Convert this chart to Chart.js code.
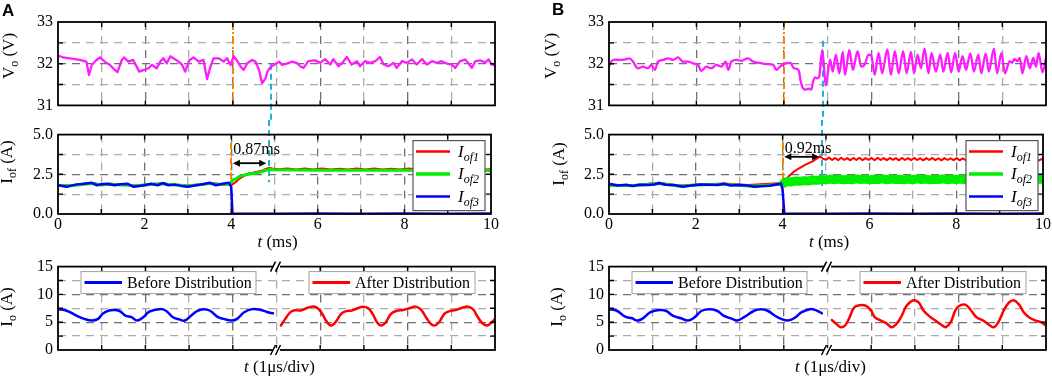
<!DOCTYPE html>
<html><head><meta charset="utf-8">
<script src="https://cdn.jsdelivr.net/npm/chart.js@4.4.1/dist/chart.umd.min.js"></script>
<style>
html,body{margin:0;padding:0;background:#fff;}
body{width:1052px;height:376px;position:relative;overflow:hidden;}
canvas{position:absolute;display:block;}
</style></head><body>
<canvas id="voA" width="500" height="120" style="left:0;top:0"></canvas>
<canvas id="iofA" width="500" height="132" style="left:0;top:120px"></canvas>
<canvas id="ioA" width="500" height="124" style="left:0;top:252px"></canvas>
<canvas id="voB" width="512" height="120" style="left:540px;top:0"></canvas>
<canvas id="iofB" width="512" height="132" style="left:540px;top:120px"></canvas>
<canvas id="ioB" width="512" height="124" style="left:540px;top:252px"></canvas>
<script>
// ---------- tick labels ----------
const T_TICK_LABELS = [0, 2, 4, 6, 8, 10];
const VO_TICK_LABELS = [31, 32, 33];
const IOF_TICK_LABELS = [0, 2.5, 5];
const IO_TICK_LABELS = [0, 5, 10, 15];
const IOF_NAMES = ['of1', 'of2', 'of3'];
const IO_NAMES = ['Before Distribution', 'After Distribution'];

// ---------- event markers ----------
const SWITCH_T_A = 4.0, SETTLE_T_A = 4.87, DELAY_A = '0.87ms';
const SWITCH_T_B = 4.0, SETTLE_T_B = 4.9, DELAY_B = '0.92ms';

// ---------- panel A data ----------
const VO_A = [[0,32.2],[0.11,32.15],[0.27,32.13],[0.5,32.09],[0.65,32.05],[0.71,31.73],[0.77,31.97],[0.88,32.09],[0.96,32.15],[1.07,32.05],[1.19,31.97],[1.3,31.85],[1.36,31.8],[1.46,32.09],[1.51,32.15],[1.61,32.05],[1.72,32.09],[1.8,31.93],[1.86,31.81],[1.97,31.85],[2.07,31.89],[2.15,31.97],[2.26,31.89],[2.34,32.05],[2.41,32.13],[2.49,32.01],[2.57,32.18],[2.64,32.13],[2.76,32.05],[2.84,31.97],[2.91,31.81],[3.01,32.09],[3.1,32.15],[3.22,32.05],[3.33,32.09],[3.41,31.63],[3.49,31.93],[3.56,32.13],[3.68,32.13],[3.79,32.05],[3.87,32.13],[3.95,31.97],[4.02,32.18],[4.1,32.07],[4.18,31.93],[4.25,31.85],[4.33,32.01],[4.44,32.09],[4.52,32.05],[4.6,31.85],[4.67,31.53],[4.75,31.65],[4.79,31.81],[4.87,31.93],[4.94,31.97],[5.06,32.05],[5.13,31.97],[5.25,32.01],[5.36,32.05],[5.48,32.01],[5.54,31.94],[5.62,31.9],[5.73,32.06],[5.88,32.08],[6.0,32.02],[6.11,32.11],[6.23,31.98],[6.3,32.11],[6.42,31.94],[6.49,32.0],[6.61,32.16],[6.72,31.98],[6.84,32.06],[6.91,31.94],[7.03,32.06],[7.14,32.02],[7.26,32.06],[7.37,32.16],[7.45,31.98],[7.56,31.94],[7.68,32.02],[7.75,31.9],[7.87,32.06],[7.98,32.02],[8.1,32.1],[8.21,31.98],[8.33,32.11],[8.44,31.98],[8.56,32.06],[8.67,32.02],[8.78,32.06],[8.9,32.0],[9.01,31.98],[9.09,31.9],[9.2,32.06],[9.32,32.1],[9.4,32.0],[9.47,31.9],[9.55,32.06],[9.66,32.08],[9.78,32.03],[9.85,32.1],[9.93,31.98],[10,31.95]];

const IOF1_A = [[0,1.83],[0.3,1.8],[0.6,1.9],[0.8,1.95],[1.0,1.85],[1.2,1.9],[1.5,1.85],[1.8,1.8],[2.1,1.88],[2.4,1.93],[2.7,1.85],[3.0,1.8],[3.3,1.88],[3.5,1.95],[3.8,1.88],[3.98,1.9],[4.02,1.85],[4.1,2.0],[4.2,2.25],[4.3,2.4],[4.4,2.55],[4.5,2.6],[4.6,2.66],[4.7,2.72],[4.8,2.84],[4.87,2.9],[4.95,2.86],[5.1,2.82],[5.3,2.86],[5.5,2.8],[5.7,2.86],[5.9,2.81],[6.1,2.86],[6.3,2.8],[6.5,2.85],[6.7,2.8],[6.9,2.86],[7.1,2.81],[7.3,2.86],[7.5,2.8],[7.7,2.85],[7.9,2.8],[8.1,2.86],[8.3,2.81],[8.5,2.86],[8.7,2.8],[8.9,2.85],[9.1,2.8],[9.3,2.86],[9.5,2.81],[9.7,2.86],[9.9,2.81],[10,2.84]];
const IOF2_A = [[0,1.8],[0.3,1.78],[0.6,1.88],[0.8,1.92],[1.0,1.82],[1.2,1.88],[1.5,1.83],[1.8,1.78],[2.1,1.85],[2.4,1.9],[2.7,1.83],[3.0,1.78],[3.3,1.85],[3.5,1.92],[3.8,1.85],[3.98,1.88],[4.02,2.1],[4.1,2.2],[4.2,2.38],[4.3,2.45],[4.4,2.5],[4.5,2.55],[4.6,2.6],[4.7,2.66],[4.8,2.76],[4.9,2.8],[5.0,2.78],[5.5,2.77],[6.0,2.76],[6.5,2.76],[7.0,2.75],[7.5,2.76],[8.0,2.75],[8.5,2.76],[9.0,2.74],[9.5,2.75],[10,2.74]];
const IOF3_A = [[0,1.81],[0.2,1.71],[0.4,1.85],[0.6,1.91],[0.77,1.97],[0.9,1.81],[1.0,1.87],[1.15,1.91],[1.3,1.81],[1.45,1.87],[1.6,1.91],[1.75,1.71],[2.0,1.81],[2.15,1.91],[2.3,1.81],[2.42,1.95],[2.55,1.81],[2.7,1.85],[2.85,1.77],[3.0,1.71],[3.2,1.81],[3.4,1.91],[3.5,1.97],[3.65,1.81],[3.8,1.91],[3.95,1.97],[4.0,1.71],[4.03,0.03],[5,0.02],[6,0.03],[7,0.02],[8,0.03],[9,0.02],[10,0.03]];

const IO_BEFORE_A = [[0,7.35],[0.2,7.06],[0.42,6.2],[0.6,5.6],[0.77,5.3],[0.92,5.6],[1.02,6.5],[1.15,7.06],[1.27,7.2],[1.4,7.06],[1.54,6.2],[1.68,5.9],[1.81,5.3],[1.95,5.9],[2.09,6.9],[2.32,7.35],[2.47,7.06],[2.63,5.9],[2.78,5.5],[2.9,5.3],[3.05,6.2],[3.18,7.0],[3.33,7.35],[3.48,7.06],[3.64,6.0],[3.79,5.6],[3.97,5.3],[4.1,5.6],[4.26,6.8],[4.45,7.35],[4.65,7.2],[4.8,6.8],[4.92,6.6]];
const IO_AFTER_A = [[5.1,4.4],[5.2,5.6],[5.32,6.8],[5.42,7.15],[5.55,7.1],[5.68,7.5],[5.81,7.8],[5.93,7.6],[6.03,6.7],[6.14,5.2],[6.24,4.4],[6.35,5.0],[6.48,6.5],[6.6,7.0],[6.72,7.1],[6.85,7.5],[6.98,7.8],[7.1,7.5],[7.2,6.5],[7.3,5.0],[7.4,4.4],[7.5,5.0],[7.62,6.5],[7.75,7.05],[7.9,7.2],[8.05,7.55],[8.18,7.8],[8.3,7.3],[8.42,5.9],[8.52,4.8],[8.61,4.4],[8.72,5.0],[8.84,6.5],[8.96,7.0],[9.1,7.2],[9.25,7.6],[9.38,7.8],[9.5,7.3],[9.6,6.0],[9.7,4.9],[9.81,4.4],[9.9,4.8],[10,5.6]];

// ---------- panel B data ----------
const VO_B = [[0,31.93],[0.05,32.05],[0.13,32.1],[0.24,32.09],[0.36,32.1],[0.47,32.13],[0.55,32.05],[0.66,31.89],[0.78,31.93],[0.89,31.89],[0.97,31.97],[1.05,31.85],[1.12,32.05],[1.24,32.09],[1.35,32.13],[1.47,32.09],[1.58,32.15],[1.69,32.05],[1.81,32.05],[1.92,32.01],[2.04,31.97],[2.11,31.83],[2.23,31.93],[2.34,31.89],[2.46,31.97],[2.57,31.93],[2.67,32.05],[2.73,31.85],[2.8,32.05],[2.92,32.09],[3.03,32.07],[3.18,32.13],[3.3,32.05],[3.45,32.02],[3.6,31.99],[3.76,31.97],[3.83,31.85],[3.91,31.93],[4.0,31.99],[4.15,32.02],[4.23,31.89],[4.31,31.87],[4.35,31.81],[4.38,31.61],[4.45,31.4],[4.5,31.38],[4.58,31.4],[4.63,31.38],[4.67,31.57],[4.72,31.67],[4.77,31.65],[4.81,31.69],[4.88,32.33],[4.96,31.48],[5.06,32.1],[5.12,31.81],[5.19,32.22],[5.27,31.77],[5.35,32.28],[5.4,31.73],[5.5,32.33],[5.58,31.85],[5.69,32.3],[5.77,31.93],[5.85,31.98],[5.94,32.22],[6.0,32.2],[6.08,31.73],[6.17,32.26],[6.25,31.77],[6.37,32.34],[6.45,31.73],[6.54,32.3],[6.63,31.77],[6.73,32.3],[6.81,31.77],[6.91,32.28],[6.98,31.77],[7.06,32.22],[7.14,31.89],[7.22,32.36],[7.31,31.77],[7.38,32.26],[7.48,31.81],[7.58,32.22],[7.65,31.81],[7.75,32.26],[7.83,31.79],[7.92,32.26],[8.0,31.81],[8.09,32.18],[8.17,31.85],[8.27,32.25],[8.35,31.81],[8.45,32.22],[8.52,31.77],[8.62,32.25],[8.69,31.81],[8.81,32.36],[8.88,31.77],[8.98,32.26],[9.06,31.77],[9.17,32.06],[9.23,32.02],[9.27,32.11],[9.35,32.06],[9.4,32.14],[9.46,31.77],[9.55,32.18],[9.63,31.89],[9.71,32.14],[9.77,31.93],[9.83,32.26],[9.92,31.79],[10,32.14]];

const IOF1_B = [[0,1.85],[0.5,1.8],[1.15,1.97],[1.6,1.8],[2.2,1.88],[2.65,1.92],[3.2,1.82],[3.98,1.95],[4.04,2.03],[4.15,2.4],[4.27,2.69],[4.38,2.88],[4.54,3.12],[4.69,3.31],[4.81,3.53],[4.86,3.63],[4.93,3.48],[5.0,3.42],[5.07,3.55],[5.14,3.4],[5.21,3.53],[5.28,3.39],[5.35,3.54],[5.42,3.41],[5.49,3.52],[5.56,3.38],[5.63,3.53],[5.7,3.4],[5.77,3.54],[5.84,3.39],[5.91,3.52],[5.98,3.41],[6.05,3.53],[6.12,3.38],[6.19,3.54],[6.26,3.4],[6.33,3.52],[6.4,3.39],[6.47,3.53],[6.54,3.41],[6.61,3.52],[6.68,3.38],[6.75,3.53],[6.82,3.4],[6.89,3.52],[6.96,3.39],[7.03,3.53],[7.1,3.4],[7.17,3.51],[7.24,3.38],[7.31,3.52],[7.38,3.4],[7.45,3.53],[7.52,3.39],[7.59,3.51],[7.66,3.38],[7.73,3.52],[7.8,3.4],[7.87,3.51],[7.94,3.39],[8.01,3.52],[8.08,3.38],[8.15,3.5],[8.22,3.39],[8.29,3.51],[8.36,3.38],[8.43,3.5],[8.5,3.4],[8.57,3.51],[8.64,3.38],[8.71,3.5],[8.78,3.39],[8.85,3.51],[8.92,3.38],[8.99,3.5],[9.06,3.39],[9.13,3.5],[9.2,3.38],[9.27,3.49],[9.34,3.37],[9.41,3.5],[9.48,3.38],[9.55,3.49],[9.62,3.37],[9.69,3.5],[9.76,3.38],[9.83,3.49],[9.9,3.37],[9.97,3.46],[10,3.44]];
const IOF2_B = [[0,1.8],[0.5,1.78],[1.15,1.92],[1.6,1.76],[2.2,1.84],[2.65,1.88],[3.3,1.75],[3.98,1.88],[4.02,1.93],[4.1,2.05],[4.2,2.02],[4.3,2.08],[4.4,2.06],[4.5,2.1],[4.6,2.08],[4.7,2.14],[4.8,2.12],[4.9,2.18],[5.0,2.15],[5.1,2.2],[5.2,2.16],[5.3,2.2],[5.4,2.15],[5.5,2.19],[5.6,2.16],[5.7,2.21],[5.8,2.17],[5.9,2.2],[6.0,2.15],[6.1,2.19],[6.2,2.17],[6.3,2.21],[6.4,2.16],[6.5,2.2],[6.6,2.17],[6.7,2.19],[6.8,2.15],[6.9,2.2],[7.0,2.16],[7.1,2.21],[7.2,2.17],[7.3,2.2],[7.4,2.15],[7.5,2.19],[7.6,2.17],[7.7,2.21],[7.8,2.16],[7.9,2.2],[8.0,2.17],[8.1,2.2],[8.2,2.16],[8.3,2.21],[8.4,2.17],[8.5,2.19],[8.6,2.16],[8.7,2.2],[8.8,2.17],[8.9,2.21],[9.0,2.16],[9.1,2.2],[9.2,2.17],[9.3,2.19],[9.4,2.16],[9.5,2.2],[9.6,2.17],[9.7,2.21],[9.8,2.16],[9.9,2.2],[10,2.18]];
const IOF3_B = [[0,1.9],[0.2,1.8],[0.4,1.84],[0.55,1.76],[0.7,1.84],[0.9,1.82],[1.05,1.86],[1.15,1.95],[1.3,1.84],[1.5,1.82],[1.7,1.72],[1.9,1.8],[2.1,1.86],[2.3,1.84],[2.5,1.82],[2.65,1.9],[2.8,1.8],[3.0,1.82],[3.2,1.8],[3.35,1.72],[3.5,1.74],[3.7,1.78],[3.85,1.86],[3.97,1.9],[4.0,1.5],[4.04,0.03],[5,0.02],[6,0.03],[7,0.02],[8,0.03],[9,0.02],[10,0.03]];

const IO_BEFORE_B = [[0,7.35],[0.18,7.06],[0.37,6.0],[0.53,5.7],[0.64,5.3],[0.76,5.6],[0.95,6.8],[1.15,7.2],[1.3,7.06],[1.46,6.2],[1.65,5.7],[1.81,5.3],[1.96,5.9],[2.12,7.06],[2.31,7.35],[2.47,7.06],[2.62,6.2],[2.82,5.6],[2.93,5.3],[3.09,5.9],[3.32,7.06],[3.48,7.35],[3.63,7.06],[3.79,6.2],[3.94,5.6],[4.1,5.3],[4.25,5.8],[4.41,6.8],[4.6,7.35],[4.76,7.06],[4.87,6.6]];
const IO_AFTER_B = [[5.1,5.4],[5.2,4.7],[5.3,4.1],[5.4,4.4],[5.49,5.6],[5.61,7.65],[5.73,8.06],[5.88,7.94],[6.0,7.06],[6.08,5.9],[6.19,5.4],[6.35,4.8],[6.47,4.1],[6.58,4.7],[6.7,6.2],[6.81,7.94],[6.97,8.94],[7.09,8.5],[7.2,7.06],[7.36,5.9],[7.47,5.3],[7.63,4.4],[7.71,4.1],[7.82,5.0],[7.94,7.35],[8.06,8.1],[8.17,8.1],[8.29,7.06],[8.41,5.9],[8.56,5.3],[8.72,4.4],[8.81,4.1],[8.91,5.0],[9.03,7.06],[9.15,8.5],[9.26,8.94],[9.38,8.2],[9.49,6.8],[9.61,5.9],[9.76,5.3],[9.88,5.0],[10,4.4]];

// ---------- styling ----------
const SERIF = '"Liberation Serif","Times New Roman",serif';
const C_MAG = '#ff1aff', C_RED = '#ff0000', C_GRN = '#00ee00', C_BLU = '#0000ff';
const C_ORANGE = '#ff7f00', C_CYAN = '#18b4d6';
const VO_TITLE = [{t:'V'},{t:'o',size:12,dy:4},{t:' (V)'}];
const IOF_TITLE = [{t:'I'},{t:'of',size:12,dy:4},{t:' (A)'}];
const IO_TITLE = [{t:'I'},{t:'o',size:12,dy:4},{t:' (A)'}];
const T_MS_TITLE = [{t:'t',it:true},{t:' (ms)'}];
const T_US_TITLE = [{t:'t',it:true},{t:' (1\u03bcs/div)'}];

const pts = a => a.map(p => ({x:p[0], y:p[1]}));
const near = (a, b) => Math.abs(a - b) < 1e-6;

function fontOf(p){ return (p.it ? 'italic ' : '') + (p.size || 17) + 'px ' + SERIF; }
function drawRich(ctx, parts, x, y, rot, align){
  ctx.save(); ctx.translate(x, y); if (rot) ctx.rotate(-Math.PI/2);
  let w = 0; for (const p of parts){ ctx.font = fontOf(p); w += ctx.measureText(p.t).width; }
  let cx = align === 'left' ? 0 : -w/2;
  ctx.fillStyle = '#000'; ctx.textBaseline = 'alphabetic'; ctx.textAlign = 'left';
  for (const p of parts){ ctx.font = fontOf(p); ctx.fillText(p.t, cx, p.dy || 0); cx += ctx.measureText(p.t).width; }
  ctx.restore();
}

const deco = {
  id: 'deco',
  beforeDatasetsDraw(chart){
    const o = chart.options.plugins.deco; if (!o) return;
    const ctx = chart.ctx, xs = chart.scales.x, ys = chart.scales.y;
    (o.vlines || []).forEach(L => {
      const x = Math.round(xs.getPixelForValue(L.t));
      const y1 = L.from === 'top' ? 0 : ys.getPixelForValue(L.from);
      const y2 = L.to === 'bottom' ? chart.height : ys.getPixelForValue(L.to);
      ctx.save(); ctx.strokeStyle = L.color; ctx.lineWidth = 2; ctx.setLineDash(L.dash);
      ctx.beginPath(); ctx.moveTo(x, y1); ctx.lineTo(x, y2); ctx.stroke(); ctx.restore();
    });
  },
  afterDatasetsDraw(chart){
    const o = chart.options.plugins.deco; if (!o) return;
    const ctx = chart.ctx, a = chart.chartArea, xs = chart.scales.x, ys = chart.scales.y;
    ctx.save();
    // frame
    ctx.strokeStyle = '#000'; ctx.lineWidth = 1.8; ctx.setLineDash([]);
    ctx.strokeRect(a.left, a.top, a.right - a.left, a.bottom - a.top);
    // inward ticks
    ctx.lineWidth = 1.4; ctx.beginPath();
    xs.ticks.forEach(t => { if (near(t.value, xs.min) || near(t.value, xs.max)) return; const x = xs.getPixelForValue(t.value);
      ctx.moveTo(x, a.top); ctx.lineTo(x, a.top + 5); ctx.moveTo(x, a.bottom); ctx.lineTo(x, a.bottom - 5); });
    ys.ticks.forEach(t => { if (near(t.value, ys.min) || near(t.value, ys.max)) return; const y = ys.getPixelForValue(t.value);
      ctx.moveTo(a.left, y); ctx.lineTo(a.left + 5, y); ctx.moveTo(a.right, y); ctx.lineTo(a.right - 5, y); });
    ctx.stroke();
    // axis break
    if (o.breakAt !== undefined){
      const x = xs.getPixelForValue(o.breakAt);
      [a.top, a.bottom].forEach(ey => {
        ctx.fillStyle = '#fff'; ctx.fillRect(x - 3.5, ey - 2, 7, 4);
        ctx.strokeStyle = '#000'; ctx.lineWidth = 1.5; ctx.beginPath();
        ctx.moveTo(x - 6, ey + 5); ctx.lineTo(x - 1, ey - 5);
        ctx.moveTo(x - 1, ey + 5); ctx.lineTo(x + 4, ey - 5); ctx.stroke();
      });
    }
    // arrow annotation
    if (o.arrow){
      const R = o.arrow, x0 = xs.getPixelForValue(R.t0), x1 = xs.getPixelForValue(R.t1), y = ys.getPixelForValue(R.y);
      ctx.strokeStyle = '#000'; ctx.fillStyle = '#000'; ctx.lineWidth = 1.8;
      ctx.beginPath(); ctx.moveTo(x0 + 5, y); ctx.lineTo(x1 - 5, y); ctx.stroke();
      ctx.beginPath(); ctx.moveTo(x0, y); ctx.lineTo(x0 + 7, y - 3.5); ctx.lineTo(x0 + 7, y + 3.5); ctx.closePath(); ctx.fill();
      ctx.beginPath(); ctx.moveTo(x1, y); ctx.lineTo(x1 - 7, y - 3.5); ctx.lineTo(x1 - 7, y + 3.5); ctx.closePath(); ctx.fill();
      drawRich(ctx, [{t:R.text, size:16}], xs.getPixelForValue(R.textT), ys.getPixelForValue(R.textY), false, 'left');
    }
    // Iof legend
    if (o.iofLegend){
      const w = 72, h = 70, bx = a.right - o.iofLegend.inset - w, by = a.top + 6;
      ctx.fillStyle = '#fff'; ctx.fillRect(bx, by, w, h);
      ctx.strokeStyle = '#555'; ctx.lineWidth = 1.2; ctx.strokeRect(bx, by, w, h);
      const rows = [11, 33.5, 56];
      IOF_NAMES.forEach((nm, i) => {
        const ds = chart.data.datasets[i];
        ctx.strokeStyle = ds.borderColor; ctx.lineWidth = i === 1 ? 3.5 : 2.5; ctx.beginPath();
        ctx.moveTo(bx + 3, by + rows[i]); ctx.lineTo(bx + 37, by + rows[i]); ctx.stroke();
        drawRich(ctx, [{t:'I', it:true, size:17},{t:nm, it:true, size:12, dy:4}], bx + 45, by + rows[i] + 5, false, 'left');
      });
    }
    // Io legends
    (o.ioLegends || []).forEach(L => {
      const bx = a.left + L.x0, bw = L.x1 - L.x0, by = a.top + 5, bh = 22;
      ctx.fillStyle = '#fff'; ctx.fillRect(bx, by, bw, bh);
      ctx.strokeStyle = '#a0a0a0'; ctx.lineWidth = 1; ctx.strokeRect(bx, by, bw, bh);
      ctx.strokeStyle = chart.data.datasets[L.ds].borderColor; ctx.lineWidth = 3; ctx.beginPath();
      ctx.moveTo(bx + 3.5, by + 11); ctx.lineTo(bx + 41, by + 11); ctx.stroke();
      drawRich(ctx, [{t:L.text, size:16}], bx + 46, by + 16.5, false, 'left');
    });
    // titles
    if (o.yTitle) drawRich(ctx, o.yTitle.parts, o.yTitle.x, o.yTitle.y, true);
    if (o.xTitle) drawRich(ctx, o.xTitle.parts, (a.left + a.right)/2 + o.xTitle.dx, o.xTitle.y, false);
    if (o.panel){ ctx.fillStyle = '#000'; ctx.font = 'bold 17px "Liberation Sans",Arial,sans-serif'; ctx.textAlign = 'left'; ctx.textBaseline = 'alphabetic'; ctx.fillText(o.panel.t, o.panel.x, o.panel.y); }
    ctx.restore();
  }
};

function gridColor(v, min, max, major){
  if (near(v, min) || near(v, max)) return 'rgba(0,0,0,0)';
  return major ? '#707070' : '#ababab';
}

function makeChart(id, c){
  return new Chart(document.getElementById(id), {
    type: 'line',
    data: { datasets: c.datasets },
    options: {
      responsive: false, animation: false, events: [],
      layout: { padding: { top: c.padTop, right: c.padRight, left: 0, bottom: 0 } },
      plugins: { legend: { display: false }, tooltip: { enabled: false }, deco: c.deco },
      elements: { point: { radius: 0 }, line: { borderJoinStyle: 'round', borderCapStyle: 'round' } },
      scales: {
        x: { type: 'linear', min: 0, max: 10,
          afterFit: s => { s.height = c.xH; },
          ticks: { stepSize: 1, autoSkip: false, maxRotation: 0, display: c.xLabels, color: '#000', padding: 1,
                   font: { family: SERIF, size: 16 }, callback: v => T_TICK_LABELS.includes(v) ? String(v) : '' },
          grid: { drawTicks: false, lineWidth: 1.3, color: g => gridColor(g.tick.value, 0, 10, g.tick.value % 2 === 0) },
          border: { display: false, dash: [8, 6] } },
        y: { min: c.yMin, max: c.yMax,
          afterFit: s => { s.width = c.yW; },
          ticks: { stepSize: c.yStep, autoSkip: false, color: '#000', padding: 5, font: { family: SERIF, size: 16 },
                   callback: v => c.yLabels.some(L => near(L, v)) ? c.yFmt(v) : '' },
          grid: { drawTicks: false, lineWidth: 1.3, color: g => gridColor(g.tick.value, c.yMin, c.yMax, c.yLabels.some(L => near(L, g.tick.value))) },
          border: { display: false, dash: [8, 6] } }
      }
    },
    plugins: [deco]
  });
}

function panel(P){
  // Vo
  makeChart(P.ids[0], {
    padTop: 22, padRight: P.padRight, yW: P.yW, xH: 14, xLabels: false,
    yMin: 31, yMax: 33, yStep: 0.5, yLabels: VO_TICK_LABELS, yFmt: v => String(v),
    datasets: [{ data: pts(P.vo), borderColor: C_MAG, borderWidth: 2.3, cubicInterpolationMode: P.voSmooth ? 'monotone' : 'default', tension: 0 }],
    deco: { vlines: [
      { t: P.sw, from: 33, to: 31, color: C_ORANGE, dash: [7,3,2,3] },
      { t: P.st, from: P.cyanVoFrom, to: 'bottom', color: C_CYAN, dash: [6,4] } ],
      yTitle: { parts: VO_TITLE, x: P.voTx, y: 56 }, panel: P.panel }
  });
  // Iof
  makeChart(P.ids[1], {
    padTop: 9, padRight: P.padRight, yW: P.yW, xH: 38, xLabels: true,
    yMin: 0, yMax: 5, yStep: 1.25, yLabels: IOF_TICK_LABELS, yFmt: v => v.toFixed(1),
    datasets: [
      { data: pts(P.i1), borderColor: C_RED, borderWidth: 2, order: 3 },
      { data: pts(P.i2), borderColor: C_GRN, borderWidth: 3, order: 2,
        segment: { borderWidth: s => (P.thickGreen && s.p0.parsed.x >= 4.0) ? 9 : 3 } },
      { data: pts(P.i3), borderColor: C_BLU, borderWidth: 2.5, order: 1 } ],
    deco: { vlines: [
      { t: P.sw, from: 4.5, to: 0, color: C_ORANGE, dash: [7,3,2,3] },
      { t: P.st, from: 'top', to: P.cyanIofTo, color: C_CYAN, dash: [6,4] } ],
      arrow: { t0: P.sw + 0.04, t1: P.st - 0.06, y: P.arrowY, text: P.delay, textT: P.sw + 0.05, textY: P.textY },
      iofLegend: { inset: P.legInset },
      yTitle: { parts: IOF_TITLE, x: P.iofTx, y: P.iofTy },
      xTitle: { parts: T_MS_TITLE, dx: 3, y: 127 } }
  });
  // Io
  makeChart(P.ids[2], {
    padTop: 11, padRight: P.padRight, yW: P.yW, xH: 26, xLabels: false,
    yMin: 0, yMax: 15, yStep: 2.5, yLabels: IO_TICK_LABELS, yFmt: v => String(v),
    datasets: [
      { data: pts(P.before), borderColor: C_BLU, borderWidth: 2.5, tension: 0.4 },
      { data: pts(P.after), borderColor: C_RED, borderWidth: 2.5, tension: 0.4 } ],
    deco: { breakAt: 5,
      ioLegends: [ { x0: 23, x1: 198, ds: 0, text: IO_NAMES[0] }, { x0: 251, x1: 417, ds: 1, text: IO_NAMES[1] } ],
      yTitle: { parts: IO_TITLE, x: P.ioTx, y: 55 },
      xTitle: { parts: T_US_TITLE, dx: 3, y: 120 } }
  });
}

panel({ ids: ['voA','iofA','ioA'], padRight: 5, yW: 58, vo: VO_A, voSmooth: false,
  i1: IOF1_A, i2: IOF2_A, i3: IOF3_A, thickGreen: false, before: IO_BEFORE_A, after: IO_AFTER_A,
  sw: SWITCH_T_A, st: SETTLE_T_A, delay: DELAY_A, cyanVoFrom: 32.0, cyanIofTo: 2.0,
  arrowY: 3.2, textY: 3.78, legInset: 6,
  voTx: 13.5, iofTx: 11.5, iofTy: 42, ioTx: 11.5, panel: { t: 'A', x: 2, y: 16 } });

panel({ ids: ['voB','iofB','ioB'], padRight: 6, yW: 69, vo: VO_B, voSmooth: true,
  i1: IOF1_B, i2: IOF2_B, i3: IOF3_B, thickGreen: true, before: IO_BEFORE_B, after: IO_AFTER_B,
  sw: SWITCH_T_B, st: SETTLE_T_B, delay: DELAY_B, cyanVoFrom: 32.55, cyanIofTo: 1.5,
  arrowY: 3.6, textY: 3.82, legInset: 5,
  voTx: 15.5, iofTx: 24, iofTy: 44, ioTx: 22, panel: { t: 'B', x: 12, y: 15 } });
</script>
</body></html>
